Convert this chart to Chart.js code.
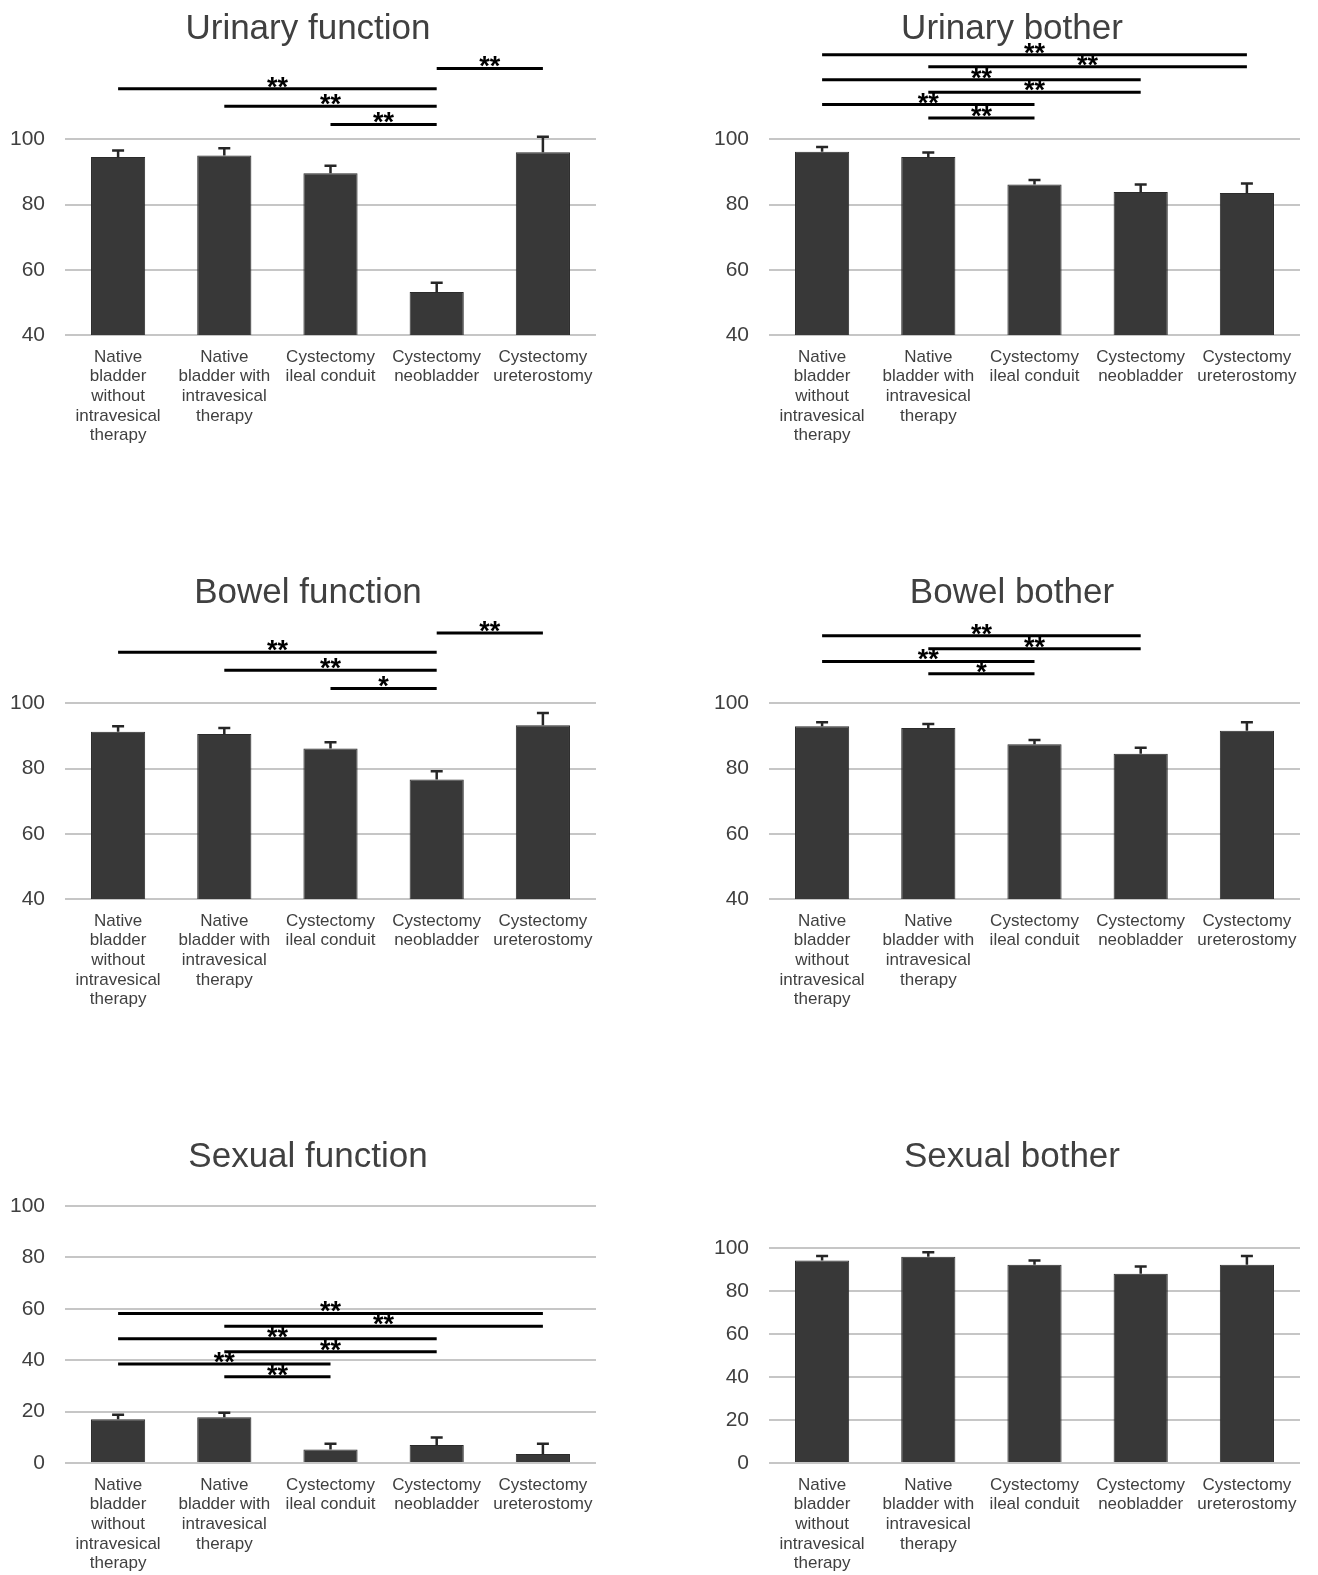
<!DOCTYPE html>
<html>
<head>
<meta charset="utf-8">
<script src="https://cdn.jsdelivr.net/npm/chart.js@4.4.1/dist/chart.umd.min.js"></script>
<style>
  html, body { margin: 0; background: #fff; }
  #wrap { position: relative; width: 1318px; height: 1575px; overflow: hidden; }
  #wrap canvas { position: absolute; }
</style>
</head>
<body>
<div id="wrap"></div>
<script>
// ── Data ──

const categories = [
  ['Native', 'bladder', 'without', 'intravesical', 'therapy'],
  ['Native', 'bladder with', 'intravesical', 'therapy'],
  ['Cystectomy', 'ileal conduit'],
  ['Cystectomy', 'neobladder'],
  ['Cystectomy', 'ureterostomy'],
];

const scoreTicks = [40, 60, 80, 100];
const sexualTicks = [0, 20, 40, 60, 80, 100];

const urinaryFunction = [94.6, 95.1, 89.6, 53.2, 96.1];
const urinaryFunctionErr = [2.0, 2.2, 2.3, 2.8, 4.7];
const urinaryFunctionSig = [[3, 4, 121.8, '**'], [0, 3, 115.6, '**'], [1, 3, 110.2, '**'], [2, 3, 104.6, '**']];

const urinaryBother = [96.2, 94.6, 86.2, 83.9, 83.6];
const urinaryBotherErr = [1.5, 1.4, 1.4, 2.3, 2.9];
const urinaryBotherSig = [[0, 4, 126.0, '**'], [1, 4, 122.3, '**'], [0, 3, 118.3, '**'], [1, 3, 114.5, '**'], [0, 2, 110.7, '**'], [1, 2, 106.6, '**']];

const bowelFunction = [91.3, 90.6, 86.2, 76.7, 93.3];
const bowelFunctionErr = [1.7, 1.9, 1.9, 2.5, 3.8];
const bowelFunctionSig = [[3, 4, 121.6, '**'], [0, 3, 115.7, '**'], [1, 3, 110.2, '**'], [2, 3, 104.6, '*']];

const bowelBother = [93.0, 92.5, 87.5, 84.6, 91.6];
const bowelBotherErr = [1.2, 1.2, 1.3, 1.8, 2.6];
const bowelBotherSig = [[0, 3, 120.8, '**'], [1, 3, 116.8, '**'], [0, 2, 112.9, '**'], [1, 2, 109.1, '*']];

const sexualFunction = [17.0, 17.8, 5.3, 7.0, 3.5];
const sexualFunctionErr = [1.8, 1.8, 2.2, 2.9, 4.0];
const sexualFunctionSig = [[0, 4, 58.2, '**'], [1, 4, 53.2, '**'], [0, 3, 48.3, '**'], [1, 3, 43.3, '**'], [0, 2, 38.5, '**'], [1, 2, 33.6, '**']];

const sexualBother = [94.2, 95.9, 92.2, 88.0, 92.2];
const sexualBotherErr = [2.1, 2.1, 2.0, 3.4, 4.1];
const sexualBotherSig = [];

// ── Panels (layout only) ──

const panels = [
  { title: 'Urinary function', values: urinaryFunction, errs: urinaryFunctionErr, sig: urinaryFunctionSig, ticks: scoreTicks, max: 125, col: 0, row: 0, titlePad: 8 },
  { title: 'Urinary bother', values: urinaryBother, errs: urinaryBotherErr, sig: urinaryBotherSig, ticks: scoreTicks, max: 125, col: 1, row: 0, titlePad: 8 },
  { title: 'Bowel function', values: bowelFunction, errs: bowelFunctionErr, sig: bowelFunctionSig, ticks: scoreTicks, max: 125, col: 0, row: 1, titlePad: 8 },
  { title: 'Bowel bother', values: bowelBother, errs: bowelBotherErr, sig: bowelBotherSig, ticks: scoreTicks, max: 125, col: 1, row: 1, titlePad: 8 },
  { title: 'Sexual function', values: sexualFunction, errs: sexualFunctionErr, sig: sexualFunctionSig, ticks: sexualTicks, max: 100, col: 0, row: 2, titlePad: 28 },
  { title: 'Sexual bother', values: sexualBother, errs: sexualBotherErr, sig: sexualBotherSig, ticks: sexualTicks, max: 100, col: 1, row: 2, titlePad: 70 },
];

const ROW_TOP = [0, 564, 1128];
const ROW_H = [564, 564, 447];
const COL_LEFT = [0, 704];
const CANVAS_W = 616;
const AREA_BOTTOM = 335;
const FONT = "'Liberation Sans', Arial, sans-serif";
const TEXT = '#404040';

// ── Error bars + significance brackets ──

const overlay = p => ({
  id: 'overlay',
  afterDatasetsDraw(chart) {
    const { ctx } = chart;
    const xs = chart.scales.x, ys = chart.scales.y;
    const bars = chart.getDatasetMeta(0).data;
    ctx.save();
    ctx.strokeStyle = '#262626';
    ctx.lineWidth = 2.5;
    p.errs.forEach((e, i) => {
      const bx = bars[i].x;
      const base = ys.getPixelForValue(p.values[i]);
      const top = ys.getPixelForValue(p.values[i] + e);
      ctx.beginPath();
      ctx.moveTo(bx, base); ctx.lineTo(bx, top);
      ctx.moveTo(bx - 6, top); ctx.lineTo(bx + 6, top);
      ctx.stroke();
    });

    ctx.strokeStyle = '#000';
    ctx.fillStyle = '#000';
    ctx.lineWidth = 3;
    ctx.font = `bold 27px ${FONT}`;
    ctx.textAlign = 'center';
    ctx.textBaseline = 'alphabetic';
    p.sig.forEach(([a, b, lvl, lbl]) => {
      const x0 = xs.getPixelForValue(a), x1 = xs.getPixelForValue(b);
      const y = ys.getPixelForValue(lvl);
      ctx.beginPath();
      ctx.moveTo(x0, y); ctx.lineTo(x1, y);
      ctx.stroke();
      ctx.fillText(lbl, (x0 + x1) / 2, y + 7);
    });
    ctx.restore();
  },
});

// ── Build ──

const wrap = document.getElementById('wrap');

panels.forEach(p => {
  const cv = document.createElement('canvas');
  cv.width = CANVAS_W;
  cv.height = ROW_H[p.row];
  cv.style.left = COL_LEFT[p.col] + 'px';
  cv.style.top = ROW_TOP[p.row] + 'px';
  cv.style.width = CANVAS_W + 'px';
  cv.style.height = ROW_H[p.row] + 'px';
  wrap.appendChild(cv);

  const xHeight = ROW_H[p.row] - AREA_BOTTOM;

  new Chart(cv.getContext('2d'), {
    type: 'bar',
    data: {
      labels: categories,
      datasets: [{
        data: p.values,
        backgroundColor: '#383838',
        borderColor: '#2b2b2b',
        borderWidth: 1,
        categoryPercentage: 1,
        barPercentage: 0.51,
      }],
    },
    options: {
      responsive: false,
      animation: false,
      devicePixelRatio: 1,
      layout: { padding: 0 },
      plugins: {
        legend: { display: false },
        tooltip: { enabled: false },
        title: {
          display: true,
          text: p.title,
          color: TEXT,
          font: { family: FONT, size: 35, weight: 'normal' },
          padding: { top: 8, bottom: p.titlePad },
        },
      },
      scales: {
        x: {
          grid: { display: false },
          border: { display: false },
          ticks: {
            color: TEXT,
            font: { family: FONT, size: 17, lineHeight: 1.16 },
            padding: 4,
            maxRotation: 0,
            autoSkip: false,
          },
          afterFit: axis => { axis.height = xHeight; },
        },
        y: {
          min: p.ticks[0],
          max: p.max,
          grid: { color: '#c6c6c6', lineWidth: 2, drawTicks: false },
          border: { display: false },
          ticks: {
            color: TEXT,
            font: { family: FONT, size: 21 },
            padding: 20,
          },
          afterBuildTicks: axis => { axis.ticks = p.ticks.map(v => ({ value: v })); },
          afterFit: axis => { axis.width = 65; },
        },
        // empty right gutter so the title centres on the whole panel
        gutter: {
          position: 'right',
          grid: { display: false },
          border: { display: false },
          ticks: { display: false },
          afterFit: axis => { axis.width = 20; },
        },
      },
    },
    plugins: [overlay(p)],
  });
});
</script>
</body>
</html>
